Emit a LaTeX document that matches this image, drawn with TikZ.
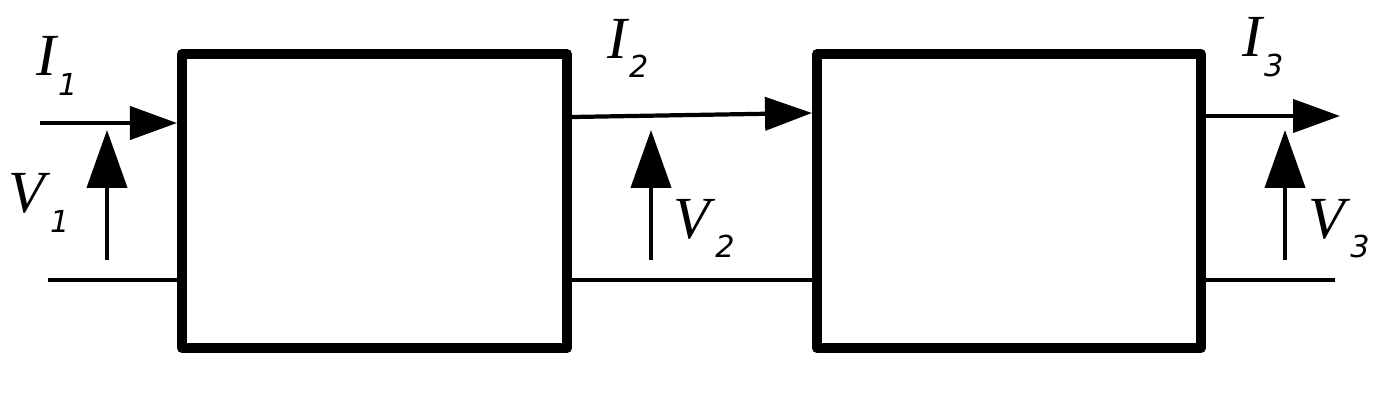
\documentclass[tikz,border=0pt]{standalone}
\usepackage{fontspec}
\setmainfont{Liberation Serif}
\newfontfamily\subfont{DejaVu Sans}
\usetikzlibrary{positioning}
\usetikzlibrary{arrows.meta}
\usetikzlibrary{calc}
\tikzset{
	every path/.style={line width=1.2pt},
	block/.style={draw,line width=2.85pt,line join=round,minimum width=3.85cm,minimum height=2.94cm,inner sep=0pt},
	curarrow/.style={-{Triangle[length=4.7mm,width=3.3mm]}},
	voltarrow/.style={-{Triangle[length=5.8mm,width=4mm]}},
	lbl/.style={anchor=base west,inner sep=0pt,outer sep=0pt},
}
\newcommand{\portlbl}[2]{{\fontsize{17}{18}\selectfont\textit{#1}}\raisebox{-5.6pt}{\subfont\itshape\fontsize{8.6}{9}\selectfont #2}}

\begin{document}
\begin{tikzpicture}
	\useasboundingbox (0,0) rectangle (13.91,4.01);
	
	% two-port blocks.....................
	\node [block] (blockA) at (3.745,2.00) {};
	\node [block, minimum width=3.84cm] (blockB) at (10.09,2.00) {};
	
	% free ends of the port wires.............
	\coordinate (in1) at (0.40,2.78);
	\coordinate (ret1) at (0.48,1.21);
	\coordinate (out3) at (13.40,2.85);
	\coordinate (ret3) at (13.35,1.21);
	
	% currents..................
	\draw [curarrow] (in1) to (blockA.west |- in1);
	\draw [curarrow] ([yshift=8.4mm]blockA.east) to ([yshift=8.8mm]blockB.west);
	\draw [curarrow] (blockB.east |- out3) to (out3);
	
	% return wires...................
	\draw (ret1) to (blockA.west |- ret1);
	\draw ([yshift=-7.9mm]blockA.east) to ([yshift=-7.9mm]blockB.west);
	\draw (blockB.east |- ret3) to (ret3);
	
	% voltages....................
	\coordinate (vlow1) at (1.07,1.41);
	\coordinate (vtip1) at (1.07,2.71);
	\coordinate (vlow2) at (6.51,1.41);
	\coordinate (vtip2) at (6.51,2.71);
	\coordinate (vlow3) at (12.85,1.41);
	\coordinate (vtip3) at (12.85,2.71);
	\draw [voltarrow] (vlow1) to (vtip1);
	\draw [voltarrow] (vlow2) to (vtip2);
	\draw [voltarrow] (vlow3) to (vtip3);
	
	% labels..............................
	\node [lbl] (labI1) at (0.36,3.25) {\portlbl{I}{1}};
	\node [lbl] (labI2) at (6.07,3.43) {\portlbl{I}{2}};
	\node [lbl] (labI3) at (12.42,3.44) {\portlbl{I}{3}};
	\node [lbl] (labV1) at (0.08,1.88) {\portlbl{V}{1}};
	\node [lbl] (labV2) at (6.73,1.63) {\portlbl{V}{2}};
	\node [lbl] (labV3) at (13.08,1.63) {\portlbl{V}{3}};
\end{tikzpicture}
\end{document}
